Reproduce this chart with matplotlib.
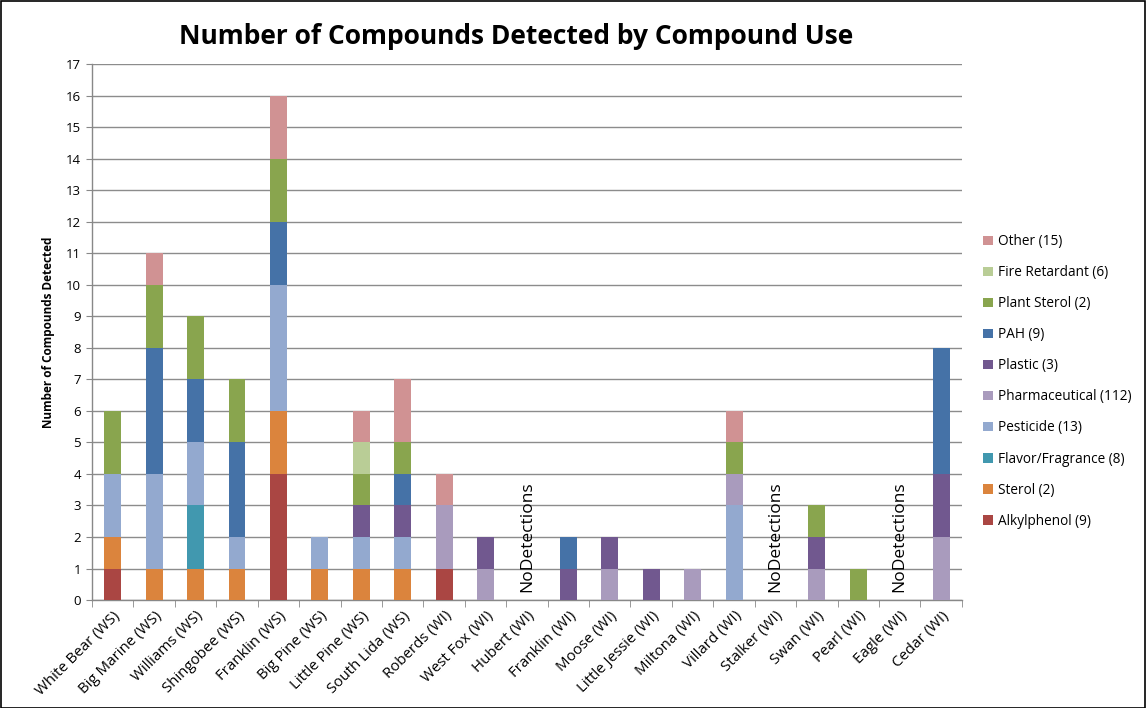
import matplotlib
matplotlib.use("Agg")
import matplotlib.pyplot as plt
from matplotlib.patches import Patch, Rectangle
import numpy as np

sites = ["White Bear (WS)", "Big Marine (WS)", "Williams (WS)", "Shingobee (WS)",
         "Franklin (WS)", "Big Pine (WS)", "Little Pine (WS)", "South Lida (WS)",
         "Roberds (WI)", "West Fox (WI)", "Hubert (WI)", "Franklin (WI)",
         "Moose (WI)", "Little Jessie (WI)", "Miltona (WI)", "Villard (WI)",
         "Stalker (WI)", "Swan (WI)", "Pearl (WI)", "Eagle (WI)", "Cedar (WI)"]

# stacked bottom -> top
alkylphenol    = [1, 0, 0, 0, 4, 0, 0, 0, 1, 0, 0, 0, 0, 0, 0, 0, 0, 0, 0, 0, 0]
sterol         = [1, 1, 1, 1, 2, 1, 1, 1, 0, 0, 0, 0, 0, 0, 0, 0, 0, 0, 0, 0, 0]
flavor         = [0, 0, 2, 0, 0, 0, 0, 0, 0, 0, 0, 0, 0, 0, 0, 0, 0, 0, 0, 0, 0]
pesticide      = [2, 3, 2, 1, 4, 1, 1, 1, 0, 0, 0, 0, 0, 0, 0, 3, 0, 0, 0, 0, 0]
pharmaceutical = [0, 0, 0, 0, 0, 0, 0, 0, 2, 1, 0, 0, 1, 0, 1, 1, 0, 1, 0, 0, 2]
plastic        = [0, 0, 0, 0, 0, 0, 1, 1, 0, 1, 0, 1, 1, 1, 0, 0, 0, 1, 0, 0, 2]
pah            = [0, 4, 2, 3, 2, 0, 0, 1, 0, 0, 0, 1, 0, 0, 0, 0, 0, 0, 0, 0, 4]
plant_sterol   = [2, 2, 2, 2, 2, 0, 1, 1, 0, 0, 0, 0, 0, 0, 0, 1, 0, 1, 1, 0, 0]
fire_retardant = [0, 0, 0, 0, 0, 0, 1, 0, 0, 0, 0, 0, 0, 0, 0, 0, 0, 0, 0, 0, 0]
other          = [0, 1, 0, 0, 2, 0, 1, 2, 1, 0, 0, 0, 0, 0, 0, 1, 0, 0, 0, 0, 0]

series = [
    ("Alkylphenol (9)", alkylphenol, "#AA4643"),
    ("Sterol (2)", sterol, "#DB843D"),
    ("Flavor/Fragrance (8)", flavor, "#4198AF"),
    ("Pesticide (13)", pesticide, "#93A9CF"),
    ("Pharmaceutical (112)", pharmaceutical, "#A99BBD"),
    ("Plastic (3)", plastic, "#71588F"),
    ("PAH (9)", pah, "#4572A7"),
    ("Plant Sterol (2)", plant_sterol, "#89A54E"),
    ("Fire Retardant (6)", fire_retardant, "#B9CD96"),
    ("Other (15)", other, "#D09293"),
]

no_detect_label = "NoDetections"

plt.rcParams['font.family'] = ['Open Sans', 'DejaVu Sans']

fig = plt.figure(figsize=(11.46, 7.08), dpi=100)
ax = fig.add_axes([0.0803, 0.1525, 0.759, 0.757])

x = np.arange(len(sites))
bottom = np.zeros(len(sites))
handles = []
for name, vals, col in series:
    v = np.array(vals, dtype=float)
    ax.bar(x, v, 0.41, bottom=bottom, color=col, linewidth=0, zorder=3)
    bottom += v
    handles.append(Patch(facecolor=col, edgecolor='none', label=name))

totals = bottom
for i, t in enumerate(totals):
    if t == 0:
        ax.text(i, 0.25, no_detect_label, rotation=90, ha='center', va='bottom',
                fontsize=12.5, color='black', zorder=4)

ax.set_xlim(-0.5, len(sites) - 0.5)
ax.set_ylim(0, 17)
ax.set_yticks(range(0, 18))
ax.tick_params(axis='y', labelsize=9.5, length=4, color='#888888', pad=4)
ax.yaxis.grid(True, color='#8c8c8c', linewidth=1.0, zorder=0)
ax.set_axisbelow(True)

ax.set_xticks(x)
ax.set_xticklabels(sites, rotation=45, ha='right', rotation_mode='anchor', fontsize=10.8)
ax.tick_params(axis='x', length=0, pad=6)
ax.set_xticks(np.arange(-0.5, len(sites)), minor=True)
ax.tick_params(axis='x', which='minor', length=5, color='#888888')

for s in ['top', 'right']:
    ax.spines[s].set_visible(False)
for s in ['left', 'bottom']:
    ax.spines[s].set_color('#888888')
    ax.spines[s].set_linewidth(1.0)

ax.set_ylabel("Number of Compounds Detected", fontsize=8.5, fontweight='bold', labelpad=8)

fig.text(0.45, 0.949, "Number of Compounds Detected by Compound Use",
         ha='center', va='center', fontsize=19, fontweight='bold')

leg = fig.legend(handles=handles[::-1], loc='upper left', bbox_to_anchor=(0.853, 0.677),
                 frameon=False, fontsize=9.8, handlelength=0.7, handleheight=0.7,
                 handletextpad=0.4, labelspacing=1.18, borderaxespad=0)

fig.add_artist(Rectangle((0.001, 0.0), 0.998, 0.998, transform=fig.transFigure,
                         fill=False, edgecolor='black', linewidth=1.2))

fig.savefig("out.png", dpi=100)
